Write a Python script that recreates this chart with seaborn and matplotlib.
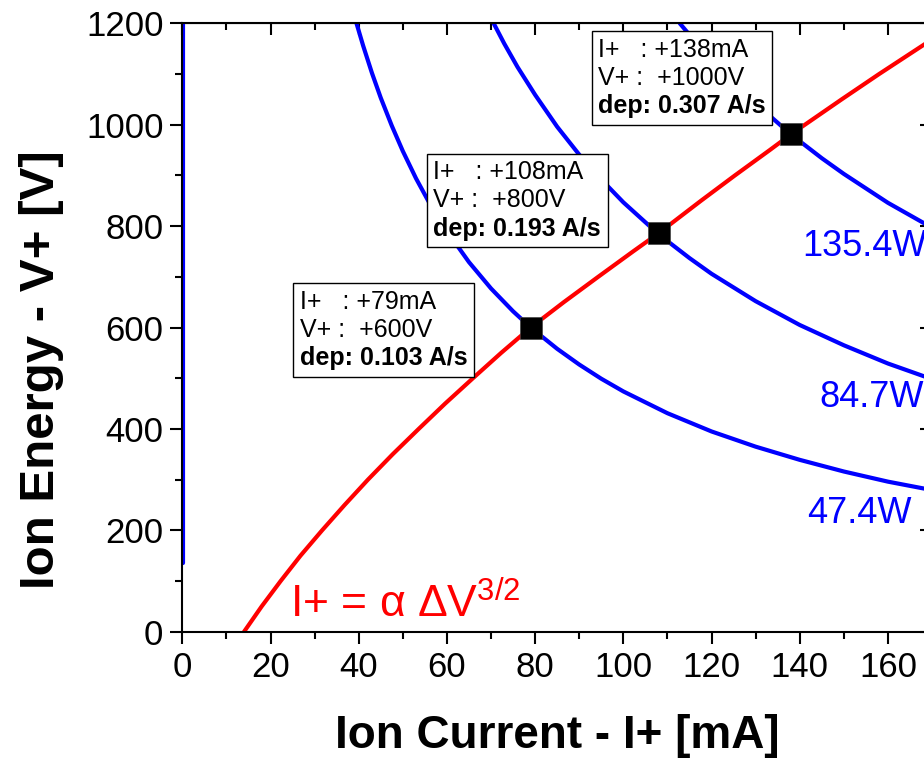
import matplotlib
matplotlib.use("Agg")
import matplotlib.pyplot as plt
import seaborn as sns
from matplotlib.ticker import MultipleLocator
from matplotlib.offsetbox import TextArea, VPacker, AnnotationBbox

# Child-law curve I+ = a dV^3/2 (red): current [mA], voltage [V]
child_current = [14.0, 18.0, 22.3, 26.8, 31.7, 36.8, 42.1, 47.7, 53.6, 59.6, 65.9, 72.3, 79.0,
                 86.5, 94.3, 102.2, 108.0, 117.6, 125.3, 133.2, 138.0, 149.5, 158.0, 168.0, 175.5]
child_voltage = [0, 50, 100, 150, 200, 250, 300, 350, 400, 450, 500, 550, 600,
                 650, 700, 750, 786, 850, 900, 950, 981, 1050, 1100, 1157, 1200]

# constant power curves (blue)
p47_current = [39.5, 41, 43, 45, 47.5, 50, 53, 56, 60, 65, 70, 75, 79, 85, 90, 95, 100,
               110, 120, 130, 140, 150, 160, 172]
p47_voltage = [1200, 1156, 1102, 1053, 998, 948, 894, 846, 790, 729, 677, 632, 600, 558, 527,
               499, 474, 431, 395, 365, 339, 316, 296, 276]

p85_current = [70.6, 73, 76, 80, 85, 90, 95, 100, 108, 115, 120, 130, 140, 150, 160, 172]
p85_voltage = [1200, 1160, 1114, 1059, 996, 941, 892, 847, 784, 737, 706, 652, 605, 565, 529, 492]

p135_current = [112.8, 116, 120, 125, 130, 138, 145, 150, 160, 172]
p135_voltage = [1200, 1167, 1128, 1083, 1042, 981, 934, 903, 846, 787]

low_current = [0.1, 0.1]
low_voltage = [135, 1200]

power_labels = ["47.4W", "84.7W", "135.4W"]

# operating points
op_current = [79, 108, 138]
op_voltage = [600, 786, 981]
op_i_text = ["+79mA", "+108mA", "+138mA"]
op_v_text = ["+600V", "+800V", "+1000V"]
op_dep = ["0.103", "0.193", "0.307"]

sns.set_style("ticks")
plt.rcParams["font.family"] = ["Liberation Sans", "DejaVu Sans"]
plt.rcParams["mathtext.fontset"] = "custom"
plt.rcParams["mathtext.rm"] = "Liberation Sans"
plt.rcParams["mathtext.it"] = "Liberation Sans:italic"
for key in ["text.color", "axes.labelcolor", "xtick.color", "ytick.color", "axes.edgecolor"]:
    plt.rcParams[key] = "black"

fig = plt.figure(figsize=(9.24, 7.6), dpi=100)
ax = fig.add_axes([0.1973, 0.1688, 0.8114, 0.8005])

blue = "#0000ff"
red = "#ff0000"
lw = 3

sns.lineplot(x=low_current, y=low_voltage, color=blue, lw=lw, sort=False, estimator=None, ax=ax)
sns.lineplot(x=p47_current, y=p47_voltage, color=blue, lw=lw, sort=False, estimator=None, ax=ax)
sns.lineplot(x=p85_current, y=p85_voltage, color=blue, lw=lw, sort=False, estimator=None, ax=ax)
sns.lineplot(x=p135_current, y=p135_voltage, color=blue, lw=lw, sort=False, estimator=None, ax=ax)
sns.lineplot(x=child_current, y=child_voltage, color=red, lw=lw, sort=False, estimator=None, ax=ax)
sns.scatterplot(x=op_current, y=op_voltage, marker="s", s=230, color="black",
                edgecolor="#444444", linewidth=0.5, zorder=5, ax=ax)

ax.set_xlim(0, 170)
ax.set_ylim(0, 1200)
ax.set_xticks(range(0, 161, 20))
ax.set_yticks(range(0, 1201, 200))
ax.xaxis.set_minor_locator(MultipleLocator(10))
ax.yaxis.set_minor_locator(MultipleLocator(100))
ax.tick_params(which="major", direction="out", length=8.6, width=1.5, labelsize=25, pad=5)
ax.tick_params(which="minor", direction="out", length=5, width=1.5)
for sp in ax.spines.values():
    sp.set_linewidth(1.5)
    sp.set_visible(True)

# top / right ticks point inward
top = ax.secondary_xaxis("top")
top.set_xticks(range(0, 171, 20))
top.xaxis.set_minor_locator(MultipleLocator(10))
top.tick_params(which="major", direction="in", length=8.6, width=1.5, labeltop=False)
top.tick_params(which="minor", direction="in", length=5, width=1.5)
right = ax.secondary_yaxis("right")
right.set_yticks(range(0, 1201, 200))
right.yaxis.set_minor_locator(MultipleLocator(100))
right.tick_params(which="major", direction="in", length=8.6, width=1.5, labelright=False)
right.tick_params(which="minor", direction="in", length=5, width=1.5)

ax.set_xlabel("Ion Current - I+ [mA]", fontsize=33, fontweight="bold", labelpad=22)
ax.set_ylabel("Ion Energy - V+ [V]", fontsize=35.5, fontweight="bold")
ax.yaxis.set_label_coords(-0.158, 0.43)

# power labels
for txt, (x, y) in zip(power_labels, [(141.7, 234), (144.4, 461), (140.5, 759)]):
    ax.text(x, y, txt, color=blue, fontsize=26, va="center", ha="left")

ax.text(24.4, 29, r"I+ = α ΔV$^{3/2}$", color=red, fontsize=32, va="baseline", ha="left")

# boxes with operating point info
box_pos = [(26.7, 674), (56.9, 930), (94.3, 1171)]
for (bx, by), it, vt, dp in zip(box_pos, op_i_text, op_v_text, op_dep):
    props = dict(fontsize=18, color="black")
    lines = [
        TextArea("I+   : " + it, textprops=props),
        TextArea("V+ :  " + vt, textprops=props),
        TextArea("dep: " + dp + " A/s", textprops=dict(props, fontweight="bold")),
    ]
    pack = VPacker(children=lines, align="left", pad=0, sep=3)
    ab = AnnotationBbox(pack, (bx, by), xycoords="data", box_alignment=(0, 1),
                        frameon=True, pad=0.3, fontsize=16,
                        bboxprops=dict(edgecolor="black", facecolor="white", lw=1))
    ab.set_zorder(4)
    ax.add_artist(ab)

fig.savefig("out.png", dpi=100)
